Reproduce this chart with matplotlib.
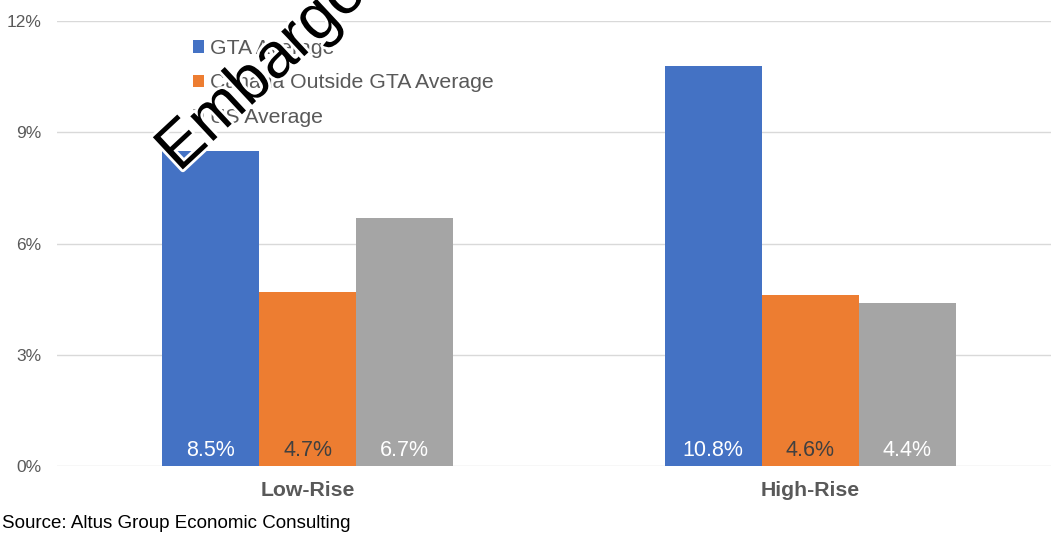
import matplotlib.pyplot as plt
import matplotlib.patheffects as pe
import numpy as np

plt.rcParams['font.family'] = ['Liberation Sans', 'DejaVu Sans']

categories = ['Low-Rise', 'High-Rise']
series_names = ['GTA Average', 'Canada Outside GTA Average', 'US Average']
gta = [8.5, 10.8]
canada_outside_gta = [4.7, 4.6]
us = [6.7, 4.4]
yticks = [0, 3, 6, 9, 12]

colors = ['#4472C4', '#ED7D31', '#A5A5A5']
label_colors = ['white', '#404040', 'white']

fig = plt.figure(figsize=(10.51, 5.35), dpi=100)
# axes spans a little past the right edge of the canvas
ax = fig.add_axes([56.5 / 1051, 69 / 535, 1005 / 1051, 445 / 535])

x = np.arange(len(categories))
width = 0.193
for i, (vals, name) in enumerate(zip([gta, canada_outside_gta, us], series_names)):
    pos = x + (i - 1) * width
    ax.bar(pos, vals, width, color=colors[i], label=name, zorder=2)
    for p, v in zip(pos, vals):
        ax.text(p, 0.42, f'{v:.1f}%', ha='center', va='center',
                color=label_colors[i], fontsize=15.5, zorder=3)

ax.set_xlim(-0.5, 1.5)
ax.set_ylim(0, 12)
ax.set_yticks(yticks)
ax.set_yticklabels([f'{t}%' for t in yticks])
ax.set_xticks(x)
ax.set_xticklabels(categories, fontweight='bold', fontsize=15.3, color='#595959')
ax.tick_params(axis='y', length=0, labelsize=12.5, labelcolor='#595959', pad=11)
ax.tick_params(axis='x', length=0, pad=11)
ax.grid(axis='y', color='#d9d9d9', linewidth=1, zorder=0)
for s in ax.spines.values():
    s.set_visible(False)

leg = ax.legend(loc='upper left', bbox_to_anchor=(193 / 1051, 1 - 39 / 535),
                bbox_transform=fig.transFigure, frameon=False, fontsize=15.3,
                handlelength=0.5, handleheight=0.5, handletextpad=0.3,
                labelspacing=0.72, borderaxespad=0, borderpad=0)
for t in leg.get_texts():
    t.set_color('#595959')

fig.text(2 / 1051, 11 / 535, 'Source: Altus Group Economic Consulting',
         fontsize=13.5, color='black', ha='left', va='center')

fig.text(179 / 1051, 1 - 173 / 535, 'Embargoed', fontsize=46, color='black',
         rotation=43, rotation_mode='anchor', ha='left', va='baseline',
         zorder=10,
         path_effects=[pe.withStroke(linewidth=4, foreground='white')])

fig.savefig('out.png', dpi=100)
